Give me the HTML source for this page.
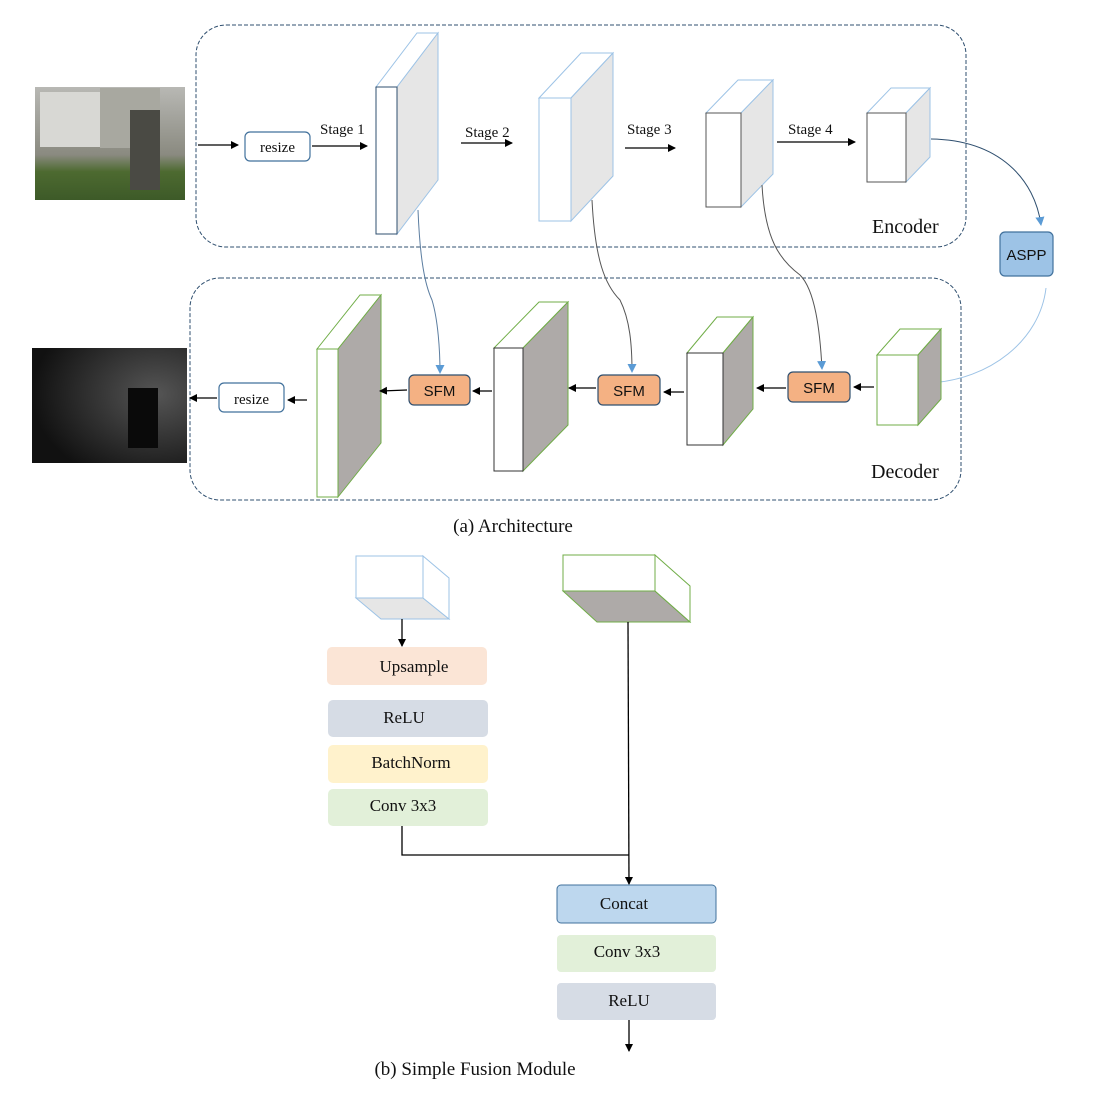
<!DOCTYPE html>
<html><head><meta charset="utf-8"><style>
html,body{margin:0;padding:0;background:#fff}
svg{display:block}
text{font-family:"Liberation Serif",serif;fill:#111}
</style></head><body>
<svg width="1110" height="1102" viewBox="0 0 1110 1102" xmlns="http://www.w3.org/2000/svg">
<defs>
<marker id="ab" markerWidth="8" markerHeight="8" refX="7" refY="4" orient="auto" markerUnits="userSpaceOnUse"><path d="M0,0 L8,4 L0,8 z" fill="#000"/></marker>
<marker id="abl" markerWidth="9" markerHeight="9" refX="8" refY="4.5" orient="auto" markerUnits="userSpaceOnUse"><path d="M0,0 L9,4.5 L0,9 z" fill="#5b9bd5"/></marker>
<linearGradient id="sky" x1="0" y1="0" x2="0" y2="1"><stop offset="0" stop-color="#b8b8b4"/><stop offset="0.6" stop-color="#8a8a80"/><stop offset="0.75" stop-color="#4d6a30"/><stop offset="1" stop-color="#3d5a28"/></linearGradient>
<radialGradient id="dep" cx="0.8" cy="0.4" r="0.8"><stop offset="0" stop-color="#555"/><stop offset="1" stop-color="#111"/></radialGradient>
</defs>

<!-- Encoder frame -->
<rect x="196" y="25" width="770" height="222" rx="30" fill="none" stroke="#2f4f6f" stroke-dasharray="4,2" stroke-width="1"/>
<rect x="190" y="278" width="771" height="222" rx="30" fill="none" stroke="#2f4f6f" stroke-dasharray="4,2" stroke-width="1"/>
<text x="872" y="233" font-size="20">Encoder</text>
<text x="871" y="478" font-size="20">Decoder</text>

<!-- RGB image -->
<rect x="35" y="87" width="150" height="113" fill="url(#sky)"/>
<rect x="40" y="92" width="60" height="55" fill="#d8d8d4"/>
<rect x="100" y="88" width="60" height="60" fill="#a8a8a0"/>
<rect x="130" y="110" width="30" height="80" fill="#4a4a44"/>
<!-- depth image -->
<rect x="32" y="348" width="155" height="115" fill="url(#dep)"/>
<rect x="128" y="388" width="30" height="60" fill="#0a0a0a"/>

<!-- encoder arrows -->
<line x1="198" y1="145" x2="238" y2="145" stroke="#000" stroke-width="1.3" marker-end="url(#ab)"/>
<rect x="245" y="132" width="65" height="29" rx="5" fill="#fff" stroke="#41719c" stroke-width="1.2"/>
<text x="277.5" y="152" font-size="15" text-anchor="middle">resize</text>
<line x1="312" y1="146" x2="367" y2="146" stroke="#000" stroke-width="1.3" marker-end="url(#ab)"/>
<text x="320" y="134" font-size="15">Stage 1</text>
<line x1="461" y1="143" x2="512" y2="143" stroke="#000" stroke-width="1.3" marker-end="url(#ab)"/>
<text x="465" y="137" font-size="15">Stage 2</text>
<line x1="625" y1="148" x2="675" y2="148" stroke="#000" stroke-width="1.3" marker-end="url(#ab)"/>
<text x="627" y="134" font-size="15">Stage 3</text>
<line x1="777" y1="142" x2="855" y2="142" stroke="#000" stroke-width="1.3" marker-end="url(#ab)"/>
<text x="788" y="134" font-size="15">Stage 4</text>

<!-- encoder cubes -->
<g stroke="#9dc3e6" stroke-width="1">
<polygon points="376,87 417,33 438,33 397,87" fill="#fff"/>
<polygon points="397,87 438,33 438,180 397,234" fill="#e6e6e6"/>
<rect x="376" y="87" width="21" height="147" fill="#fff" stroke="#2f4f6f"/>
<polygon points="539,98 581,53 613,53 571,98" fill="#fff"/>
<polygon points="571,98 613,53 613,176 571,221" fill="#e6e6e6"/>
<rect x="539" y="98" width="32" height="123" fill="#fff"/>
<polygon points="706,113 738,80 773,80 741,113" fill="#fff"/>
<polygon points="741,113 773,80 773,174 741,207" fill="#e6e6e6"/>
<rect x="706" y="113" width="35" height="94" fill="#fff" stroke="#555"/>
<polygon points="867,113 891,88 930,88 906,113" fill="#fff"/>
<polygon points="906,113 930,88 930,157 906,182" fill="#e6e6e6"/>
<rect x="867" y="113" width="39" height="69" fill="#fff" stroke="#555"/>
</g>

<!-- ASPP -->
<rect x="1000" y="232" width="53" height="44" rx="5" fill="#9dc3e6" stroke="#41719c" stroke-width="1.2"/>
<text x="1026.5" y="260" font-size="15" text-anchor="middle" style="font-family:'Liberation Sans',sans-serif">ASPP</text>
<path d="M931,139 C1000,140 1035,180 1041,225" fill="none" stroke="#2f4f6f" stroke-width="1" marker-end="url(#abl)"/>
<path d="M1046,288 C1040,340 990,380 929,383" fill="none" stroke="#9dc3e6" stroke-width="1" marker-end="url(#abl)"/>

<!-- skip connections -->
<path d="M418,210 C420,260 425,285 432,300 C438,320 440,350 440,373" fill="none" stroke="#5b7da0" stroke-width="1" marker-end="url(#abl)"/>
<path d="M592,200 C595,260 605,285 620,300 C630,320 632,345 632,372" fill="none" stroke="#555" stroke-width="1" marker-end="url(#abl)"/>
<path d="M762,185 C765,240 780,260 800,275 C815,290 820,330 822,369" fill="none" stroke="#555" stroke-width="1" marker-end="url(#abl)"/>

<!-- decoder cubes -->
<g stroke="#70ad47" stroke-width="1">
<polygon points="317,349 360,295 381,295 338,349" fill="#fff"/>
<polygon points="338,349 381,295 381,443 338,497" fill="#aeaaa8"/>
<rect x="317" y="349" width="21" height="148" fill="#fff"/>
<polygon points="494,348 539,302 568,302 523,348" fill="#fff"/>
<polygon points="523,348 568,302 568,425 523,471" fill="#aeaaa8"/>
<rect x="494" y="348" width="29" height="123" fill="#fff" stroke="#333"/>
<polygon points="687,353 717,317 753,317 723,353" fill="#fff"/>
<polygon points="723,353 753,317 753,409 723,445" fill="#aeaaa8"/>
<rect x="687" y="353" width="36" height="92" fill="#fff" stroke="#333"/>
<polygon points="877,355 900,329 941,329 918,355" fill="#fff"/>
<polygon points="918,355 941,329 941,399 918,425" fill="#aeaaa8"/>
<rect x="877" y="355" width="41" height="70" fill="#fff"/>
</g>

<!-- SFM -->
<g stroke="#2f4f6f" stroke-width="1.2" fill="#f4b183">
<rect x="409" y="375" width="61" height="30" rx="5"/>
<rect x="598" y="375" width="62" height="30" rx="5"/>
<rect x="788" y="372" width="62" height="30" rx="5"/>
</g>
<text x="439.5" y="396" font-size="15" text-anchor="middle" style="font-family:'Liberation Sans',sans-serif">SFM</text>
<text x="629" y="396" font-size="15" text-anchor="middle" style="font-family:'Liberation Sans',sans-serif">SFM</text>
<text x="819" y="393" font-size="15" text-anchor="middle" style="font-family:'Liberation Sans',sans-serif">SFM</text>

<g stroke="#000" stroke-width="1.3">
<line x1="874" y1="387" x2="854" y2="387" marker-end="url(#ab)"/>
<line x1="786" y1="388" x2="757" y2="388" marker-end="url(#ab)"/>
<line x1="684" y1="392" x2="664" y2="392" marker-end="url(#ab)"/>
<line x1="596" y1="388" x2="569" y2="388" marker-end="url(#ab)"/>
<line x1="492" y1="391" x2="473" y2="391" marker-end="url(#ab)"/>
<line x1="407" y1="390" x2="380" y2="391" marker-end="url(#ab)"/>
<line x1="307" y1="400" x2="288" y2="400" marker-end="url(#ab)"/>
<line x1="217" y1="398" x2="190" y2="398" marker-end="url(#ab)"/>
</g>
<rect x="219" y="383" width="65" height="29" rx="5" fill="#fff" stroke="#41719c" stroke-width="1.2"/>
<text x="251.5" y="404" font-size="15" text-anchor="middle">resize</text>

<text x="513" y="532" font-size="19" text-anchor="middle">(a) Architecture</text>

<!-- part b cubes -->
<g stroke="#9dc3e6" stroke-width="1">
<polygon points="356,598 423,598 449,619 381,619" fill="#e6e6e6"/>
<polygon points="423,556 449,578 449,619 423,598" fill="#fff"/>
<rect x="356" y="556" width="67" height="42" fill="#fff"/>
</g>
<g stroke="#70ad47" stroke-width="1">
<polygon points="563,591 655,591 690,622 597,622" fill="#aeaaa8"/>
<polygon points="655,555 690,586 690,622 655,591" fill="#fff"/>
<rect x="563" y="555" width="92" height="36" fill="#fff"/>
</g>
<line x1="402" y1="619" x2="402" y2="646" stroke="#000" stroke-width="1.3" marker-end="url(#ab)"/>

<g stroke="#fff" stroke-width="0">
<rect x="327" y="647" width="160" height="38" rx="5" fill="#fbe5d6"/>
<rect x="328" y="700" width="160" height="37" rx="5" fill="#d6dce5"/>
<rect x="328" y="745" width="160" height="38" rx="5" fill="#fff2cc"/>
<rect x="328" y="789" width="160" height="37" rx="5" fill="#e2f0d9"/>
<rect x="557" y="885" width="159" height="38" rx="4" fill="#bdd7ee" stroke="#41719c" stroke-width="1"/>
<rect x="557" y="935" width="159" height="37" rx="4" fill="#e2f0d9"/>
<rect x="557" y="983" width="159" height="37" rx="4" fill="#d6dce5"/>
</g>
<text x="414" y="672" font-size="17" text-anchor="middle">Upsample</text>
<text x="404" y="723" font-size="17" text-anchor="middle">ReLU</text>
<text x="411" y="768" font-size="17" text-anchor="middle">BatchNorm</text>
<text x="403" y="811" font-size="17" text-anchor="middle">Conv 3x3</text>
<text x="624" y="909" font-size="17" text-anchor="middle">Concat</text>
<text x="627" y="957" font-size="17" text-anchor="middle">Conv 3x3</text>
<text x="629" y="1006" font-size="17" text-anchor="middle">ReLU</text>

<g stroke="#000" stroke-width="1.3" fill="none">
<polyline points="402,826 402,855 629,855"/>
<line x1="628" y1="622" x2="629" y2="884" marker-end="url(#ab)"/>
<line x1="629" y1="1020" x2="629" y2="1051" marker-end="url(#ab)"/>
</g>
<text x="475" y="1075" font-size="19" text-anchor="middle">(b) Simple Fusion Module</text>
</svg>
</body></html>
